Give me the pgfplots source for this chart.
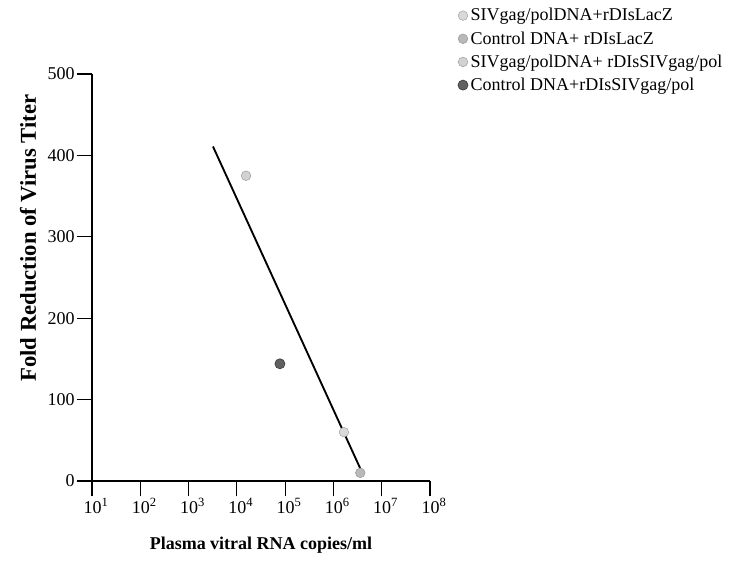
\documentclass[border=0pt]{standalone}
\usepackage{fontspec}
\setmainfont{Liberation Serif}
\usepackage{pgfplots}
\pgfplotsset{compat=1.18}

\begin{document}
\begin{tikzpicture}
\useasboundingbox (-69pt,-70.5pt) rectangle (484.5pt,360.75pt);
\begin{axis}[
    scale only axis,
    width=253.5pt, height=305.25pt,
    xmode=log,
    xmin=10, xmax=1e8,
    ymin=0, ymax=500,
    axis lines=left,
    axis line style={-, line width=0.9pt},
    tick style={line width=0.9pt, black},
    tick align=outside,
    major tick length=11.5pt,
    xminorticks=false,
    xtick={1e1,1e2,1e3,1e4,1e5,1e6,1e7,1e8},
    xticklabels={10\textsuperscript{1},10\textsuperscript{2},10\textsuperscript{3},10\textsuperscript{4},10\textsuperscript{5},10\textsuperscript{6},10\textsuperscript{7},10\textsuperscript{8}},
    ytick={0,100,200,300,400,500},
    yticklabels={0,100,200,300,400,500},
    ticklabel style={font=\fontsize{13.5}{15}\selectfont},
    xticklabel style={yshift=2pt, xshift=3pt},
    yticklabel style={xshift=2pt},
    xlabel={\textbf{Plasma vitral RNA copies/ml}},
    ylabel={\textbf{Fold Reduction of Virus Titer}},
    xlabel style={font=\fontsize{13.5}{15}\selectfont, at={(axis description cs:0.5,-0.157)}, anchor=center},
    ylabel style={font=\fontsize{17}{19}\selectfont, at={(axis description cs:-0.189,0.597)}, anchor=center},
    legend style={at={(1.07,1.175)}, anchor=north west, draw=none, fill=none,
        font=\fontsize{13.5}{15}\selectfont, row sep=2.5pt},
    legend cell align=left,
    clip=false,
]
\addplot[only marks, mark=*, mark size=3.6pt, draw=gray!70, fill=gray!30] coordinates {(1.65e6,60)};
\addlegendentry{SIVgag/polDNA+rDIsLacZ}
\addplot[only marks, mark=*, mark size=3.6pt, draw=gray!80, fill=gray!55] coordinates {(3.6e6,10)};
\addlegendentry{Control DNA+ rDIsLacZ}
\addplot[only marks, mark=*, mark size=3.6pt, draw=gray!75, fill=gray!35] coordinates {(1.55e4,375)};
\addlegendentry{SIVgag/polDNA+ rDIsSIVgag/pol}
\addplot[only marks, mark=*, mark size=3.8pt, draw=black!80, fill=gray!75!black] coordinates {(7.8e4,144)};
\addlegendentry{Control DNA+rDIsSIVgag/pol}
\addplot[black, line width=1.4pt, forget plot] coordinates {(3.2e3,411) (4.1e6,8)};
\end{axis}
\end{tikzpicture}
\end{document}
